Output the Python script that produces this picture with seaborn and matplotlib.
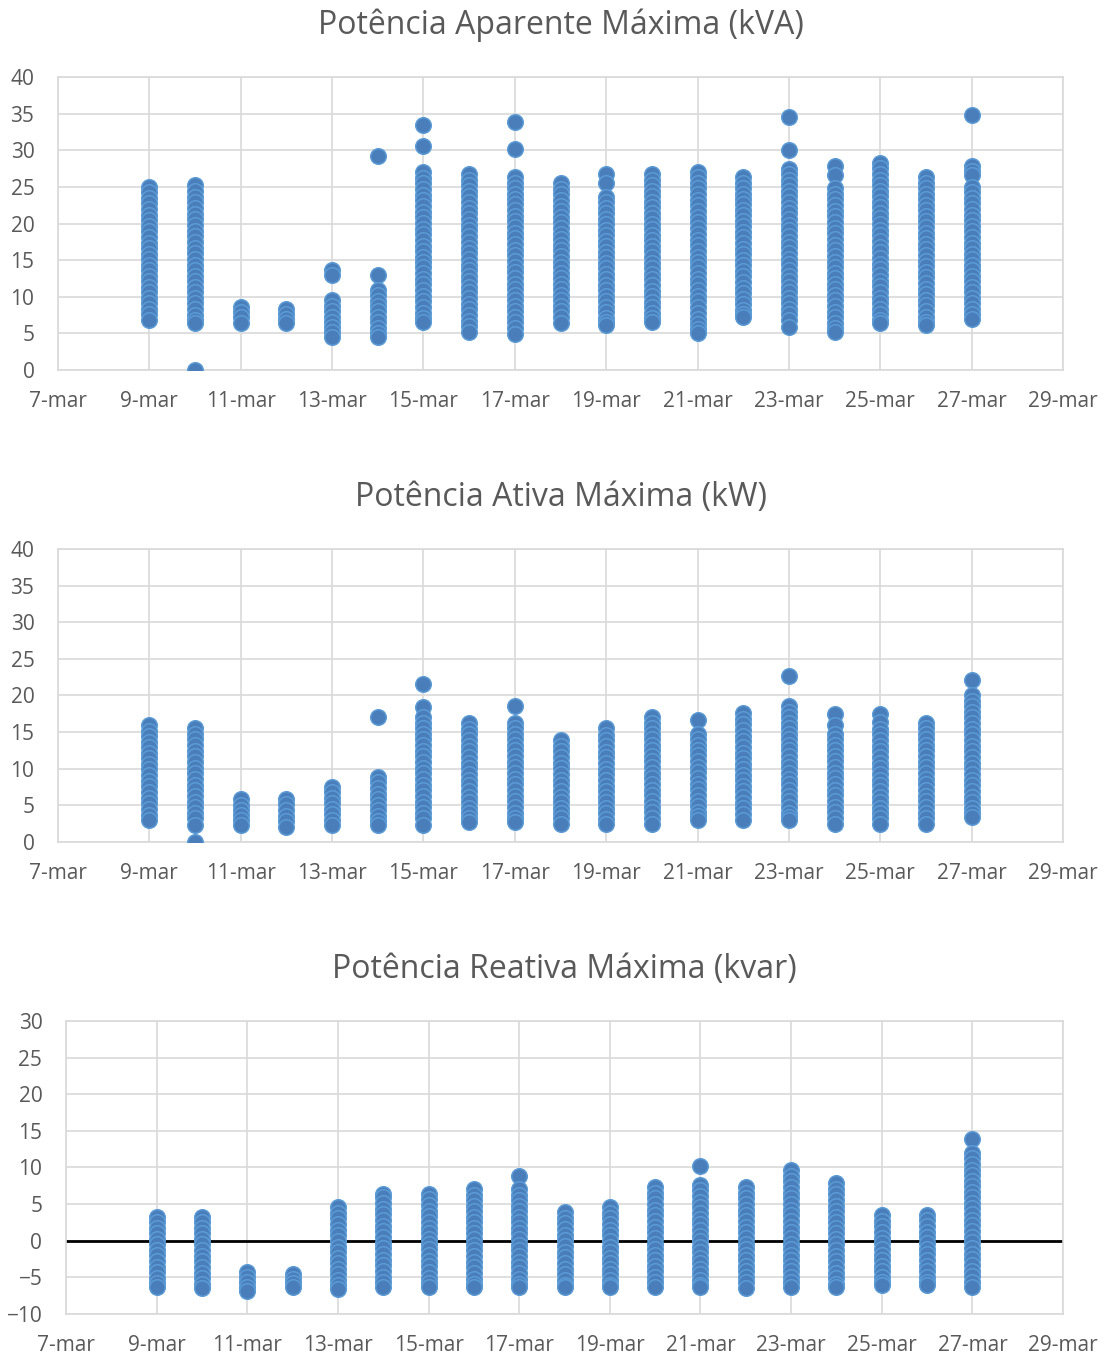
import pandas as pd
import seaborn as sns
import matplotlib.pyplot as plt

# dias de medição (março)
dias = [9, 10, 11, 12, 13, 14, 15, 16, 17, 18, 19, 20, 21, 22, 23, 24, 25, 26, 27]

# Potência aparente máxima (kVA) - pontos lidos em cada dia
kva = [
    [25.0, 24.3, 23.5, 22.8, 22.0, 21.2, 20.5, 19.7, 19.0, 18.2, 17.4, 16.7, 15.9, 15.2, 14.4, 13.6, 12.9, 12.1, 11.4, 10.6, 9.8, 9.1, 8.3, 7.6, 6.8],
    [25.2, 24.4, 23.6, 22.9, 22.1, 21.3, 20.6, 19.8, 19.0, 18.3, 17.5, 16.7, 16.0, 15.2, 14.4, 13.7, 12.9, 12.1, 11.4, 10.6, 9.8, 9.1, 8.3, 7.5, 6.8, 6.4, 0.0],
    [8.6, 7.9, 7.2, 6.4],
    [8.4, 7.7, 7.0, 6.4],
    [13.6, 13.0, 9.5, 8.8, 8.0, 7.3, 6.6, 5.9, 5.2, 4.5],
    [29.2, 13.0, 10.9, 10.2, 9.4, 8.7, 8.0, 7.2, 6.5, 5.8, 5.1, 4.5],
    [33.5, 30.6, 27.0, 26.2, 25.5, 24.7, 23.9, 23.2, 22.4, 21.6, 20.9, 20.1, 19.3, 18.6, 17.8, 17.0, 16.3, 15.5, 14.7, 14.0, 13.2, 12.4, 11.7, 10.9, 10.1, 9.4, 8.6, 7.8, 7.1, 6.6],
    [26.8, 26.0, 25.2, 24.5, 23.7, 22.9, 22.1, 21.4, 20.6, 19.8, 19.1, 18.3, 17.5, 16.7, 16.0, 15.2, 14.4, 13.7, 12.9, 12.1, 11.3, 10.6, 9.8, 9.0, 8.3, 7.5, 6.7, 6.0, 5.2],
    [33.9, 30.2, 26.4, 25.6, 24.9, 24.1, 23.3, 22.6, 21.8, 21.0, 20.3, 19.5, 18.7, 18.0, 17.2, 16.4, 15.7, 14.9, 14.1, 13.4, 12.6, 11.8, 11.1, 10.3, 9.5, 8.8, 8.0, 7.2, 6.5, 5.7, 4.9],
    [25.5, 24.7, 24.0, 23.2, 22.4, 21.7, 20.9, 20.2, 19.4, 18.6, 17.9, 17.1, 16.4, 15.6, 14.8, 14.1, 13.3, 12.6, 11.8, 11.0, 10.3, 9.5, 8.8, 8.0, 7.2, 6.4],
    [26.8, 25.6, 23.6, 22.9, 22.1, 21.4, 20.6, 19.9, 19.1, 18.4, 17.6, 16.9, 16.1, 15.4, 14.6, 13.9, 13.1, 12.4, 11.6, 10.9, 10.1, 9.4, 8.6, 7.9, 7.1, 6.6, 6.1],
    [26.8, 26.0, 25.3, 24.5, 23.8, 23.0, 22.2, 21.5, 20.7, 20.0, 19.2, 18.4, 17.7, 16.9, 16.2, 15.4, 14.6, 13.9, 13.1, 12.4, 11.6, 10.8, 10.1, 9.3, 8.6, 7.8, 7.1, 6.6],
    [27.1, 26.3, 25.6, 24.8, 24.0, 23.2, 22.5, 21.7, 20.9, 20.2, 19.4, 18.6, 17.8, 17.1, 16.3, 15.5, 14.8, 14.0, 13.2, 12.4, 11.7, 10.9, 10.1, 9.4, 8.6, 7.8, 7.0, 6.3, 5.6, 5.0],
    [26.4, 25.6, 24.9, 24.1, 23.4, 22.6, 21.8, 21.1, 20.3, 19.6, 18.8, 18.1, 17.3, 16.5, 15.8, 15.0, 14.3, 13.5, 12.8, 12.0, 11.2, 10.5, 9.7, 9.0, 8.2, 7.6, 7.3],
    [34.5, 30.1, 27.5, 26.7, 26.0, 25.2, 24.4, 23.7, 22.9, 22.1, 21.4, 20.6, 19.8, 19.1, 18.3, 17.5, 16.8, 16.0, 15.2, 14.5, 13.7, 12.9, 12.2, 11.4, 10.6, 9.9, 9.1, 8.3, 7.6, 6.8, 5.9],
    [27.8, 26.6, 24.8, 24.0, 23.3, 22.5, 21.7, 21.0, 20.2, 19.4, 18.7, 17.9, 17.1, 16.4, 15.6, 14.8, 14.1, 13.3, 12.5, 11.8, 11.0, 10.2, 9.5, 8.7, 7.9, 7.2, 6.4, 5.7, 5.2],
    [28.2, 27.6, 26.8, 26.0, 25.3, 24.5, 23.7, 23.0, 22.2, 21.4, 20.7, 19.9, 19.1, 18.4, 17.6, 16.8, 16.1, 15.3, 14.5, 13.8, 13.0, 12.2, 11.5, 10.7, 9.9, 9.2, 8.4, 7.6, 6.9, 6.4],
    [26.3, 25.6, 24.8, 24.1, 23.3, 22.5, 21.8, 21.0, 20.3, 19.5, 18.7, 18.0, 17.2, 16.5, 15.7, 14.9, 14.2, 13.4, 12.7, 11.9, 11.1, 10.4, 9.6, 8.9, 8.1, 7.3, 6.6, 6.1],
    [34.8, 27.8, 27.2, 26.6, 25.0, 24.3, 23.5, 22.8, 22.0, 21.2, 20.5, 19.7, 19.0, 18.2, 17.4, 16.7, 15.9, 15.2, 14.4, 13.6, 12.9, 12.1, 11.4, 10.6, 9.8, 9.1, 8.3, 7.6, 7.0],
]

# Potência ativa máxima (kW)
kw = [
    [16.0, 15.2, 14.5, 13.7, 12.9, 12.2, 11.4, 10.6, 9.9, 9.1, 8.3, 7.6, 6.8, 6.0, 5.3, 4.5, 3.7, 3.0],
    [15.5, 14.7, 14.0, 13.2, 12.4, 11.7, 10.9, 10.1, 9.4, 8.6, 7.8, 7.1, 6.3, 5.5, 4.8, 4.0, 3.2, 2.3, 0.0],
    [5.8, 5.1, 4.4, 3.7, 3.0, 2.3],
    [5.9, 5.2, 4.4, 3.6, 2.9, 2.1],
    [7.5, 6.8, 6.0, 5.3, 4.5, 3.8, 3.0, 2.3],
    [17.1, 8.9, 8.2, 7.4, 6.6, 5.9, 5.1, 4.4, 3.6, 2.9, 2.3],
    [21.5, 18.4, 17.0, 16.2, 15.5, 14.7, 14.0, 13.2, 12.4, 11.7, 10.9, 10.1, 9.4, 8.6, 7.8, 7.1, 6.3, 5.5, 4.8, 4.0, 3.2, 2.3],
    [16.2, 15.4, 14.7, 13.9, 13.1, 12.4, 11.6, 10.8, 10.1, 9.3, 8.5, 7.8, 7.0, 6.2, 5.5, 4.7, 3.9, 3.2, 2.7],
    [18.6, 16.3, 15.5, 14.8, 14.0, 13.2, 12.5, 11.7, 10.9, 10.2, 9.4, 8.6, 7.9, 7.1, 6.3, 5.6, 4.8, 4.0, 3.3, 2.7],
    [13.9, 13.1, 12.4, 11.6, 10.8, 10.1, 9.3, 8.5, 7.8, 7.0, 6.2, 5.5, 4.7, 3.9, 3.2, 2.5],
    [15.5, 14.6, 13.9, 13.1, 12.3, 11.6, 10.8, 10.0, 9.3, 8.5, 7.7, 7.0, 6.2, 5.4, 4.7, 3.9, 3.1, 2.5],
    [17.1, 16.3, 15.6, 14.8, 14.0, 13.3, 12.5, 11.7, 11.0, 10.2, 9.4, 8.7, 7.9, 7.1, 6.4, 5.6, 4.8, 4.1, 3.3, 2.5],
    [16.7, 14.8, 14.1, 13.3, 12.5, 11.8, 11.0, 10.2, 9.5, 8.7, 7.9, 7.2, 6.4, 5.6, 4.9, 4.1, 3.5, 3.0],
    [17.6, 16.8, 16.1, 15.3, 14.5, 13.8, 13.0, 12.2, 11.5, 10.7, 9.9, 9.2, 8.4, 7.6, 6.9, 6.1, 5.3, 4.6, 3.8, 3.0],
    [22.6, 18.6, 17.8, 17.1, 16.3, 15.5, 14.8, 14.0, 13.2, 12.5, 11.7, 10.9, 10.2, 9.4, 8.6, 7.9, 7.1, 6.3, 5.6, 4.8, 4.0, 3.4, 3.0],
    [17.4, 16.0, 14.8, 14.0, 13.3, 12.5, 11.7, 11.0, 10.2, 9.4, 8.7, 7.9, 7.1, 6.4, 5.6, 4.8, 4.1, 3.3, 2.5],
    [17.4, 16.4, 15.4, 14.7, 13.9, 13.1, 12.4, 11.6, 10.8, 10.1, 9.3, 8.5, 7.8, 7.0, 6.2, 5.5, 4.7, 3.9, 3.2, 2.5],
    [16.3, 15.5, 14.8, 14.0, 13.2, 12.5, 11.7, 10.9, 10.2, 9.4, 8.6, 7.9, 7.1, 6.3, 5.6, 4.8, 4.0, 3.3, 2.5],
    [22.1, 20.0, 19.3, 18.5, 17.7, 17.0, 16.2, 15.4, 14.7, 13.9, 13.1, 12.4, 11.6, 10.8, 10.1, 9.3, 8.5, 7.8, 7.0, 6.2, 5.5, 4.7, 3.9, 3.4],
]

# Potência reativa máxima (kvar)
kvar = [
    [3.3, 2.6, 1.8, 1.0, 0.3, -0.5, -1.3, -2.0, -2.8, -3.6, -4.3, -5.1, -5.8, -6.3],
    [3.3, 2.5, 1.8, 1.0, 0.2, -0.5, -1.3, -2.1, -2.8, -3.6, -4.4, -5.1, -5.9, -6.4],
    [-4.3, -5.0, -5.7, -6.3, -6.8],
    [-4.5, -5.2, -5.8, -6.3],
    [4.6, 3.8, 3.1, 2.3, 1.5, 0.8, 0.0, -0.8, -1.5, -2.3, -3.1, -3.8, -4.6, -5.4, -6.1, -6.6],
    [6.4, 5.9, 5.1, 4.3, 3.6, 2.8, 2.0, 1.3, 0.5, -0.3, -1.0, -1.8, -2.6, -3.3, -4.1, -4.9, -5.6, -6.3],
    [6.4, 5.7, 4.9, 4.1, 3.4, 2.6, 1.8, 1.1, 0.3, -0.5, -1.2, -2.0, -2.8, -3.5, -4.3, -5.1, -5.8, -6.3],
    [7.1, 6.3, 5.6, 4.8, 4.0, 3.3, 2.5, 1.7, 1.0, 0.2, -0.6, -1.3, -2.1, -2.9, -3.6, -4.4, -5.2, -5.9, -6.3],
    [8.8, 7.1, 6.3, 5.6, 4.8, 4.0, 3.3, 2.5, 1.7, 1.0, 0.2, -0.6, -1.3, -2.1, -2.9, -3.6, -4.4, -5.2, -5.9, -6.3],
    [3.9, 3.1, 2.4, 1.6, 0.8, 0.1, -0.7, -1.5, -2.2, -3.0, -3.8, -4.5, -5.3, -6.0, -6.3],
    [4.6, 3.8, 3.1, 2.3, 1.5, 0.8, 0.0, -0.8, -1.5, -2.3, -3.1, -3.8, -4.6, -5.4, -6.0, -6.3],
    [7.3, 6.5, 5.8, 5.0, 4.2, 3.5, 2.7, 1.9, 1.2, 0.4, -0.4, -1.1, -1.9, -2.7, -3.4, -4.2, -5.0, -5.7, -6.3],
    [10.2, 7.6, 6.9, 6.1, 5.3, 4.6, 3.8, 3.0, 2.3, 1.5, 0.7, 0.0, -0.8, -1.6, -2.3, -3.1, -3.9, -4.6, -5.4, -6.0, -6.3],
    [7.3, 6.5, 5.8, 5.0, 4.2, 3.5, 2.7, 1.9, 1.2, 0.4, -0.4, -1.1, -1.9, -2.7, -3.4, -4.2, -5.0, -5.7, -6.5],
    [9.6, 8.8, 8.1, 7.3, 6.5, 5.8, 5.0, 4.2, 3.5, 2.7, 1.9, 1.2, 0.4, -0.4, -1.1, -1.9, -2.7, -3.4, -4.2, -5.0, -5.7, -6.3],
    [7.9, 7.1, 6.4, 5.6, 4.8, 4.1, 3.3, 2.5, 1.8, 1.0, 0.2, -0.5, -1.3, -2.1, -2.8, -3.6, -4.4, -5.1, -5.9, -6.3],
    [3.5, 2.7, 2.0, 1.2, 0.4, -0.3, -1.1, -1.9, -2.6, -3.4, -4.2, -4.9, -5.7, -6.1],
    [3.5, 2.8, 2.0, 1.2, 0.5, -0.3, -1.1, -1.8, -2.6, -3.4, -4.1, -4.9, -5.7, -6.1],
    [13.9, 12.0, 11.3, 10.5, 9.7, 9.0, 8.2, 7.4, 6.7, 5.9, 5.1, 4.4, 3.6, 2.8, 2.1, 1.3, 0.5, -0.2, -1.0, -1.8, -2.5, -3.3, -4.1, -4.8, -5.6, -6.3],
]

titulos = ['Potência Aparente Máxima (kVA)', 'Potência Ativa Máxima (kW)', 'Potência Reativa Máxima (kvar)']
ticks_x = [7, 9, 11, 13, 15, 17, 19, 21, 23, 25, 27, 29]
rotulos_x = ['7-mar', '9-mar', '11-mar', '13-mar', '15-mar', '17-mar', '19-mar',
             '21-mar', '23-mar', '25-mar', '27-mar', '29-mar']
limites_y = [(0, 40), (0, 40), (-10, 30)]


def monta_df(series):
    linhas = []
    for d, vals in zip(dias, series):
        for v in vals:
            linhas.append({'dia': d, 'valor': v})
    return pd.DataFrame(linhas)


sns.set_style("whitegrid", {'grid.color': '#d9d9d9', 'axes.edgecolor': '#d9d9d9'})
plt.rcParams['font.family'] = ['Open Sans', 'DejaVu Sans']

fig = plt.figure(figsize=(11.07, 13.56), dpi=100)
posicoes = [
    [0.0524, 0.7271, 0.9079, 0.2161],
    [0.0524, 0.3791, 0.9079, 0.2161],
    [0.0596, 0.0310, 0.9007, 0.2161],
]

for i, serie in enumerate([kva, kw, kvar]):
    ax = fig.add_axes(posicoes[i])
    df = monta_df(serie)
    sns.scatterplot(data=df, x='dia', y='valor', ax=ax, s=125, color='#4a7ebb',
                    edgecolor='#5b9bd5', linewidth=1.1, zorder=3)
    ax.set_xlim(7, 29)
    ymin, ymax = limites_y[i]
    ax.set_ylim(ymin, ymax)
    ax.set_yticks(list(range(ymin, ymax + 1, 5)))
    ax.set_xticks(ticks_x)
    ax.set_xticklabels(rotulos_x)
    ax.set_xlabel('')
    ax.set_ylabel('')
    ax.tick_params(axis='both', length=0, labelsize=15, colors='#595959')
    ax.tick_params(axis='x', pad=15)
    ax.tick_params(axis='y', pad=17)
    ax.grid(True, color='#d9d9d9', linewidth=1.2)
    for s in ax.spines.values():
        s.set_color('#d9d9d9')
        s.set_linewidth(1.2)
    if ymin < 0:
        ax.axhline(0, color='black', linewidth=2, zorder=2)
    ax.set_title(titulos[i], fontsize=23, color='#595959', pad=31)

plt.savefig("out.png", dpi=100)
